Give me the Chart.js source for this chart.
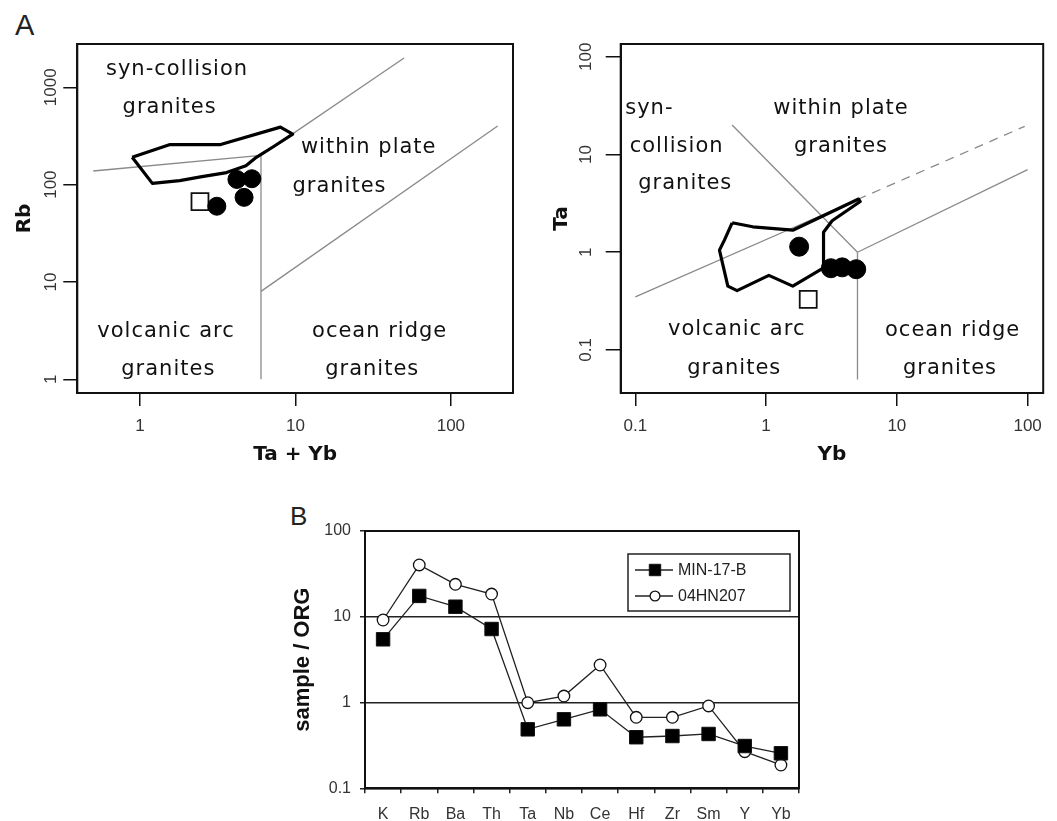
<!DOCTYPE html>
<html><head><meta charset="utf-8">
<script src="https://cdn.jsdelivr.net/npm/chart.js@4.4.0/dist/chart.umd.min.js"></script>
<style>
html,body{margin:0;padding:0;background:#fff;}
body{width:1057px;height:821px;position:relative;overflow:hidden;}
canvas{position:absolute;}
.lab{position:absolute;font-family:'Liberation Sans',Arial,sans-serif;color:#222;line-height:1;}
</style></head><body>
<div class="lab" style="left:15px;top:11px;font-size:29px;">A</div>
<div class="lab" style="left:290px;top:503px;font-size:26px;">B</div>
<canvas id="c1" width="530" height="470" style="left:0;top:0"></canvas>
<canvas id="c2" width="527" height="470" style="left:530px;top:0"></canvas>
<canvas id="c3" width="580" height="350" style="left:240px;top:480px"></canvas>
<script>
// ---------------- DATA ----------------
// Panel A (left): Rb vs Ta+Yb
const rbTicksX = [1, 10, 100];
const rbTicksY = [1, 10, 100, 1000];
const rbBoundSynVag = [[0.5, 138], [6, 200]];
const rbBoundVert = [[6, 1], [6, 200]];
const rbBoundWpgOrg = [[6, 8], [200, 400]];
const rbBoundSynWpg = [[6, 200], [50, 2000]];
const rbField = [[0.89,191],[1.56,258],[3.3,258],[8.0,390],[9.6,330],[7.2,245],[5.5,187],[4.8,156],[3.6,133],[2.45,120],[1.8,110],[1.2,103],[0.89,191]];
const rbCircles = [[4.2,113],[5.24,115],[4.67,74],[3.12,60]];
const rbSquares = [[2.43,67]];
const rbLabelText = ['syn-collision','granites','within plate','granites','volcanic arc','granites','ocean ridge','granites'];
const rbLabelX = [1.73, 1.55, 29.6, 19.2, 1.47, 1.52, 34.8, 31.2];
const rbLabelY = [1514, 614, 238, 96, 3.11, 1.26, 3.06, 1.26];

// Panel A (right): Ta vs Yb
const taTicksX = [0.1, 1, 10, 100];
const taTicksY = [0.1, 1, 10, 100];
const taBoundSynWpg = [[0.55, 20], [5, 1]];
const taBoundVagSolid = [[0.1, 0.35], [5, 3.46]];
const taBoundVagDash = [[5, 3.46], [95, 19.4]];
const taBoundWpgOrg = [[5, 1], [100, 7]];
const taBoundVert = [[5, 0.05], [5, 1]];
const taField = [[0.55,2.0],[0.79,1.82],[1.6,1.68],[5.1,3.5],[5.25,3.3],[3.2,2.1],[2.75,1.6],[2.75,0.69],[1.6,0.45],[1.05,0.58],[0.6,0.405],[0.51,0.45],[0.44,1.05],[0.48,1.33],[0.55,2.0]];
const taCircles = [[1.79,1.14],[3.13,0.686],[3.82,0.70],[4.89,0.67]];
const taSquares = [[2.1,0.33]];
const taLabelText = ['syn-','collision','granites','within plate','granites','volcanic arc','granites','ocean ridge','granites'];
const taLabelX = [0.128, 0.207, 0.241, 3.74, 3.74, 0.596, 0.571, 26.7, 25.5];
const taLabelY = [29.6, 12.0, 5.06, 29.6, 12.0, 0.16, 0.065, 0.157, 0.065];

// Panel B: sample / ORG spider diagram
const elements = ['K','Rb','Ba','Th','Ta','Nb','Ce','Hf','Zr','Sm','Y','Yb'];
const min17b = [5.46, 17.5, 13.1, 7.2, 0.487, 0.637, 0.833, 0.394, 0.407, 0.43, 0.311, 0.256];
const hn207 = [9.17, 40.2, 23.9, 18.4, 0.995, 1.19, 2.74, 0.673, 0.673, 0.912, 0.267, 0.187];
const orgTicks = [0.1, 1, 10, 100];
const seriesNames = ['MIN-17-B', '04HN207'];

// ---------------- HELPERS ----------------
const pts = arr => arr.map(p => ({x: p[0], y: p[1]}));

const boxPlugin = {
  id: 'boxFrame',
  afterDraw(chart) {
    const a = chart.chartArea, c = chart.ctx;
    c.save();
    c.strokeStyle = '#111';
    c.lineWidth = 2;
    c.strokeRect(a.left, a.top, a.right - a.left, a.bottom - a.top);
    c.restore();
  }
};

function regionPlugin(texts, xs, ys) {
  return {
    id: 'regions',
    beforeDatasetsDraw(chart) {
      const c = chart.ctx, sx = chart.scales.x, sy = chart.scales.y;
      c.save();
      c.font = '21px "DejaVu Sans", Verdana, sans-serif';
      c.fillStyle = '#111';
      c.textAlign = 'center';
      c.textBaseline = 'middle';
      if ('letterSpacing' in c) c.letterSpacing = '1px';
      texts.forEach((t, i) => c.fillText(t, sx.getPixelForValue(xs[i]), sy.getPixelForValue(ys[i])));
      c.restore();
    }
  };
}

function logAxis(tickVals, min, max, o) {
  return {
    type: 'logarithmic', min: min, max: max, bounds: 'data',
    afterBuildTicks: s => { s.ticks = tickVals.map(v => ({value: v})); },
    afterFit: s => { if (s.isHorizontal()) s.height = o.size; else s.width = o.size; },
    ticks: {
      callback: v => String(v), autoSkip: false,
      font: {family: '"Liberation Sans", Arial, sans-serif', size: 17}, color: '#333',
      padding: o.pad, minRotation: o.rot, maxRotation: o.rot, crossAlign: o.cross || 'near'
    },
    grid: {drawOnChartArea: false, drawTicks: true, tickLength: o.tl, color: '#111', lineWidth: 1.5},
    border: {display: true, color: '#111', width: 2},
    title: {display: true, text: o.title, color: '#111',
      font: {family: '"DejaVu Sans", Verdana, sans-serif', size: 20, weight: 'bold'}, padding: o.tpad}
  };
}

function lineDs(arr, opts) {
  return Object.assign({data: pts(arr), showLine: true, pointRadius: 0, borderColor: '#8a8a8a',
    borderWidth: 1.3, fill: false, tension: 0, order: 2}, opts || {});
}

const common = {
  responsive: false, animation: false, devicePixelRatio: 1, events: [],
  plugins: {legend: {display: false}, tooltip: {enabled: false}}
};

// ---------------- PANEL A LEFT ----------------
new Chart(document.getElementById('c1'), {
  type: 'scatter',
  data: {datasets: [
    {data: pts(rbCircles), pointRadius: 9, backgroundColor: '#000', borderColor: '#000', borderWidth: 1, order: 0},
    {data: pts(rbSquares), pointStyle: 'rect', pointRadius: 12, backgroundColor: '#fff', borderColor: '#111', borderWidth: 1.8, order: 0},
    lineDs(rbField, {borderColor: '#000', borderWidth: 3.2, order: 1, borderJoinStyle: 'round'}),
    lineDs(rbBoundSynVag), lineDs(rbBoundVert), lineDs(rbBoundWpgOrg), lineDs(rbBoundSynWpg)
  ]},
  options: Object.assign({}, common, {
    layout: {padding: {left: 0, top: 44, right: 17, bottom: 0}},
    scales: {
      x: logAxis(rbTicksX, 0.3947, 251, {size: 77, tl: 13, pad: 10, rot: 0, title: 'Ta + Yb', tpad: {top: 0, bottom: 3}}),
      y: logAxis(rbTicksY, 0.723, 2786, {size: 77.3, tl: 14, pad: -7, rot: 90, cross: 'center', title: 'Rb', tpad: {top: 13, bottom: 0}})
    }
  }),
  plugins: [boxPlugin, regionPlugin(rbLabelText, rbLabelX, rbLabelY)]
});

// ---------------- PANEL A RIGHT ----------------
new Chart(document.getElementById('c2'), {
  type: 'scatter',
  data: {datasets: [
    {data: pts(taCircles), pointRadius: 9.5, backgroundColor: '#000', borderColor: '#000', borderWidth: 1, order: 0},
    {data: pts(taSquares), pointStyle: 'rect', pointRadius: 12, backgroundColor: '#fff', borderColor: '#111', borderWidth: 1.8, order: 0},
    lineDs(taField, {borderColor: '#000', borderWidth: 3.2, order: 1, borderJoinStyle: 'round'}),
    lineDs(taBoundSynWpg), lineDs(taBoundVagSolid), lineDs(taBoundVagDash, {borderDash: [9, 7]}),
    lineDs(taBoundWpgOrg), lineDs(taBoundVert)
  ]},
  options: Object.assign({}, common, {
    layout: {padding: {left: 0, top: 44, right: 2, bottom: 0}},
    scales: {
      x: logAxis(taTicksX, 0.0773, 131.6, {size: 77, tl: 13, pad: 10, rot: 0, title: 'Yb', tpad: {top: 0, bottom: 3}}),
      y: logAxis(taTicksY, 0.0363, 134.9, {size: 90.7, tl: 15, pad: 5, rot: 90, cross: 'center', title: 'Ta', tpad: {top: 20, bottom: 0}})
    }
  }),
  plugins: [boxPlugin, regionPlugin(taLabelText, taLabelX, taLabelY)]
});

// ---------------- PANEL B ----------------
const legendPlugin = {
  id: 'boxLegend',
  afterDraw(chart) {
    const a = chart.chartArea, c = chart.ctx;
    const w = 162, h = 57, left = a.right - 9 - w, top = a.top + 23;
    c.save();
    c.fillStyle = '#fff';
    c.fillRect(left, top, w, h);
    c.strokeStyle = '#222'; c.lineWidth = 1.5;
    c.strokeRect(left, top, w, h);
    chart.data.datasets.forEach((ds, i) => {
      const y = top + 16 + i * 26;
      c.strokeStyle = '#222'; c.lineWidth = 1.3;
      c.beginPath(); c.moveTo(left + 7, y); c.lineTo(left + 45, y); c.stroke();
      c.fillStyle = ds.pointBackgroundColor; c.strokeStyle = '#111'; c.lineWidth = ds.pointBorderWidth;
      Chart.helpers.drawPoint(c, {pointStyle: ds.pointStyle, radius: ds.pointRadius * 0.85, rotation: 0, borderWidth: ds.pointBorderWidth}, left + 27, y);
      c.fillStyle = '#222';
      c.font = '16px "Liberation Sans", Arial, sans-serif';
      c.textAlign = 'left'; c.textBaseline = 'middle';
      c.fillText(ds.label, left + 50, y + 1);
    });
    c.restore();
  }
};

new Chart(document.getElementById('c3'), {
  type: 'line',
  data: {labels: elements, datasets: [
    {label: seriesNames[0], data: min17b, borderColor: '#222', borderWidth: 1.3, pointStyle: 'rect', pointRadius: 9.5,
      pointBackgroundColor: '#000', pointBorderColor: '#111', pointBorderWidth: 1, tension: 0, fill: false},
    {label: seriesNames[1], data: hn207, borderColor: '#222', borderWidth: 1.3, pointStyle: 'circle', pointRadius: 5.8,
      pointBackgroundColor: '#fff', pointBorderColor: '#111', pointBorderWidth: 1.3, tension: 0, fill: false}
  ]},
  options: Object.assign({}, common, {
    layout: {padding: {left: 0, top: 51, right: 21, bottom: 0}},
    scales: {
      x: {
        type: 'category', offset: true,
        afterFit: s => { s.height = 41.7; },
        ticks: {font: {family: '"Liberation Sans", Arial, sans-serif', size: 16}, color: '#333', padding: 12, autoSkip: false, maxRotation: 0},
        grid: {offset: true, drawOnChartArea: false, drawTicks: true, tickLength: 5, color: '#222', lineWidth: 1.5},
        border: {display: true, color: '#111', width: 2}
      },
      y: {
        type: 'logarithmic', min: 0.1, max: 100, bounds: 'data',
        afterBuildTicks: s => { s.ticks = orgTicks.map(v => ({value: v})); },
        afterFit: s => { s.width = 125; },
        ticks: {callback: v => String(v), font: {family: '"Liberation Sans", Arial, sans-serif', size: 16}, color: '#333', padding: 9},
        grid: {drawOnChartArea: true, drawTicks: true, tickLength: 5, color: '#222', lineWidth: 1.5},
        border: {display: true, color: '#111', width: 2},
        title: {display: true, text: 'sample / ORG', color: '#111',
          font: {family: '"Liberation Sans", Arial, sans-serif', size: 22, weight: 'bold'}, padding: {top: 50, bottom: 0}}
      }
    }
  }),
  plugins: [boxPlugin, legendPlugin]
});
</script>
</body></html>
